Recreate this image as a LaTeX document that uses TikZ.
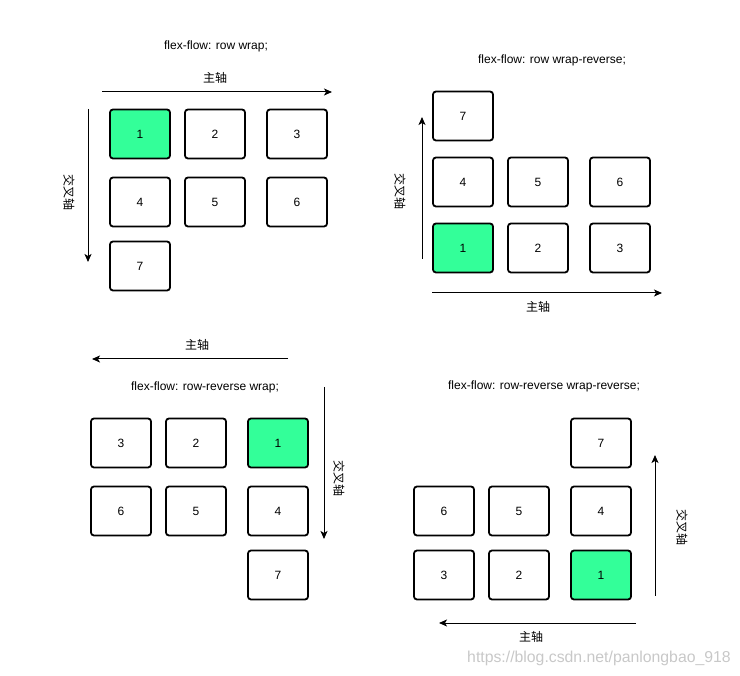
\documentclass[tikz,border=0pt]{standalone}
\usepackage{fontspec}
\setmainfont{Liberation Sans}
\newfontfamily\cjkfont{Noto Sans CJK SC}
\usetikzlibrary{arrows.meta}
\definecolor{flexGreen}{RGB}{51,255,153}
\definecolor{markGray}{RGB}{200,200,200}

\begin{document}
\begin{tikzpicture}[
    x=1pt, y=-1pt,
    item/.style={rectangle, draw=black, line width=1.8pt, fill=white, rounded corners=3pt, minimum width=60pt, minimum height=49pt, inner sep=0pt, font=\fontsize{12}{14}\selectfont},
    first/.style={item, fill=flexGreen},
    title/.style={inner sep=0pt, font=\fontsize{12}{14}\selectfont},
    axis/.style={inner sep=0pt, font=\fontsize{12}{14}\selectfont\cjkfont},
    arrow/.style={-{Stealth[length=8pt,width=7pt,inset=2pt]}, line width=1pt, black}
]
\useasboundingbox (0,0) rectangle (740,676);

% row wrap
\node[title] (t1) at (216,46) {flex-flow: row wrap;};
\node[axis] (main1) at (215,78) {主轴};
\coordinate (m1s) at (102,92);
\coordinate (m1e) at (332,92);
\draw[arrow] (m1s) -- (m1e);
\coordinate (c1s) at (88,109);
\coordinate (c1e) at (88,262);
\draw[arrow] (c1s) -- (c1e);
\node[axis, rotate=-90] (cross1) at (69,193) {交叉轴};
\node[first] (a1) at (140,134) {1};
\node[item] (a2) at (215,134) {2};
\node[item] (a3) at (297,134) {3};
\node[item] (a4) at (140,202) {4};
\node[item] (a5) at (215,202) {5};
\node[item] (a6) at (297,202) {6};
\node[item] (a7) at (140,266) {7};

% row wrap-reverse
\node[title] (t2) at (552,60) {flex-flow: row wrap-reverse;};
\node[item] (b7) at (463,116) {7};
\node[item] (b4) at (463,182) {4};
\node[item] (b5) at (538,182) {5};
\node[item] (b6) at (620,182) {6};
\node[first] (b1) at (463,248) {1};
\node[item] (b2) at (538,248) {2};
\node[item] (b3) at (620,248) {3};
\coordinate (c2s) at (422,259);
\coordinate (c2e) at (422,117);
\draw[arrow] (c2s) -- (c2e);
\node[axis, rotate=-90] (cross2) at (400,192) {交叉轴};
\coordinate (m2s) at (432,293);
\coordinate (m2e) at (662,293);
\draw[arrow] (m2s) -- (m2e);
\node[axis] (main2) at (538,307) {主轴};

% row-reverse wrap
\node[axis] (main3) at (197,345) {主轴};
\coordinate (m3s) at (288,359);
\coordinate (m3e) at (92,359);
\draw[arrow] (m3s) -- (m3e);
\node[title] (t3) at (205,387) {flex-flow: row-reverse wrap;};
\node[item] (c3) at (121,443) {3};
\node[item] (c2) at (196,443) {2};
\node[first] (c1) at (278,443) {1};
\node[item] (c6) at (121,511) {6};
\node[item] (c5) at (196,511) {5};
\node[item] (c4) at (278,511) {4};
\node[item] (c7) at (278,575) {7};
\coordinate (c3s) at (324,387);
\coordinate (c3e) at (324,539);
\draw[arrow] (c3s) -- (c3e);
\node[axis, rotate=-90] (cross3) at (339,479) {交叉轴};

% row-reverse wrap-reverse
\node[title] (t4) at (544,386) {flex-flow: row-reverse wrap-reverse;};
\node[item] (d7) at (601,443) {7};
\node[item] (d6) at (444,511) {6};
\node[item] (d5) at (519,511) {5};
\node[item] (d4) at (601,511) {4};
\node[item] (d3) at (444,575) {3};
\node[item] (d2) at (519,575) {2};
\node[first] (d1) at (601,575) {1};
\coordinate (c4s) at (655,596);
\coordinate (c4e) at (655,455);
\draw[arrow] (c4s) -- (c4e);
\node[axis, rotate=-90] (cross4) at (682,528) {交叉轴};
\coordinate (m4s) at (636,623);
\coordinate (m4e) at (439,623);
\draw[arrow] (m4s) -- (m4e);
\node[axis] (main4) at (531,637) {主轴};

\node[title, text=markGray, font=\fontsize{15.8}{18}\selectfont] (mark) at (599,658) {https://blog.csdn.net/panlongbao\_918};
\end{tikzpicture}
\end{document}
